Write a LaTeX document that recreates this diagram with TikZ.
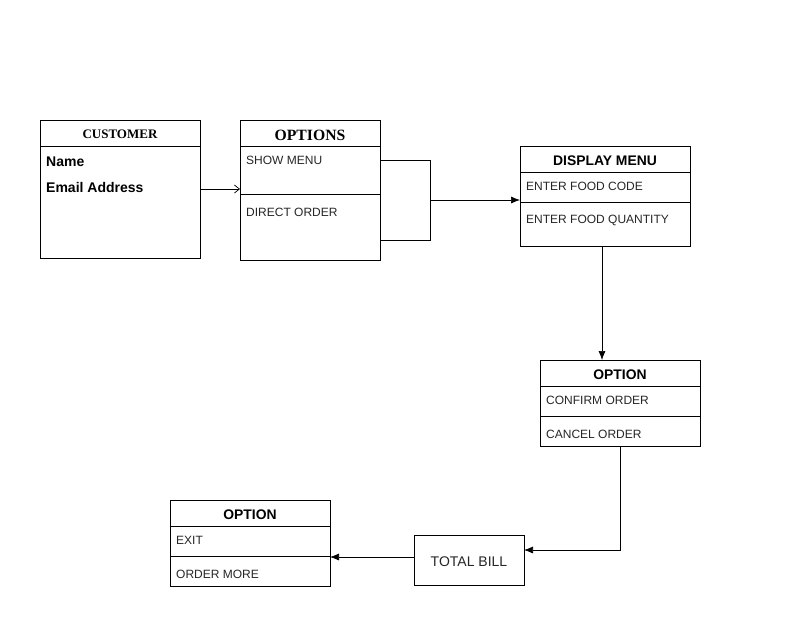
\documentclass[tikz,border=0pt]{standalone}
\usepackage{fontspec}
\setmainfont{Liberation Sans}
\newfontfamily\serifttl{Liberation Serif}
\usetikzlibrary{arrows.meta}
\begin{document}
\begin{tikzpicture}[x=1pt,y=-1pt,
  box/.style={draw, line width=0.7pt, inner sep=0pt, outer sep=0pt, anchor=north west},
  ttl/.style={font=\fontsize{13.9}{16}\selectfont\bfseries, inner sep=0pt},
  item/.style={font=\fontsize{12}{14}\selectfont, text=black!85, anchor=west, inner sep=0pt},
  conn/.style={line width=0.7pt},
  tip/.style={-{Latex[length=9pt,width=7pt]}},
  div/.style={line width=0.7pt}]
\useasboundingbox[fill=white] (0,0) rectangle (808,641);

% CUSTOMER
\node[box, minimum width=160pt, minimum height=138pt] (cust) at (40,120) {};
\draw[div] (40,146) -- (200,146);
\node[inner sep=0pt, font=\serifttl\fontsize{13}{15}\selectfont\bfseries] (custT) at (120,134) {CUSTOMER};
\node[item, font=\fontsize{14}{16}\selectfont\bfseries, text=black] (custA) at (46,162) {Name};
\node[item, font=\fontsize{14}{16}\selectfont\bfseries, text=black] (custB) at (46,187) {Email Address};

% OPTIONS
\node[box, minimum width=140pt, minimum height=140pt] (opt) at (240,120) {};
\draw[div] (240,146) -- (380,146);
\draw[div] (240,194) -- (380,194);
\node[inner sep=0pt, font=\serifttl\fontsize{15.7}{18}\selectfont\bfseries] (optT) at (310,135) {OPTIONS};
\node[item] (optA) at (246,160) {SHOW MENU};
\node[item] (optB) at (246,212) {DIRECT ORDER};

% DISPLAY MENU
\node[box, minimum width=170pt, minimum height=100pt] (disp) at (520,146) {};
\draw[div] (520,172) -- (690,172);
\draw[div] (520,202) -- (690,202);
\node[ttl] (dispT) at (605,161) {DISPLAY MENU};
\node[item] (dispA) at (526,186) {ENTER FOOD CODE};
\node[item] (dispB) at (526,220) {ENTER FOOD QUANTITY};

% OPTION 1
\node[box, minimum width=160pt, minimum height=86pt] (opt1) at (540,360) {};
\draw[div] (540,386) -- (700,386);
\draw[div] (540,416) -- (700,416);
\node[ttl] (opt1T) at (620,375) {OPTION};
\node[item] (opt1A) at (546,400) {CONFIRM ORDER};
\node[item] (opt1B) at (546,434) {CANCEL ORDER};

% TOTAL BILL
\node[box, minimum width=110pt, minimum height=50pt] (bill) at (414,535) {};
\node[inner sep=0pt, font=\fontsize{14}{16}\selectfont, text=black!85] (billT) at (469,562) {TOTAL BILL};

% OPTION 2
\node[box, minimum width=160pt, minimum height=86pt] (opt2) at (170,500) {};
\draw[div] (170,526) -- (330,526);
\draw[div] (170,556) -- (330,556);
\node[ttl] (opt2T) at (250,515) {OPTION};
\node[item] (opt2A) at (176,540) {EXIT};
\node[item] (opt2B) at (176,574) {ORDER MORE};

% connectors
\draw[conn, -{Straight Barb[length=5pt,width=8pt]}] (cust.east) -- (cust.east -| opt.west);
\coordinate (j) at (430,200);
\draw[conn] ([yshift=-40pt]opt.north east) -| (430,240) -- ([yshift=20pt]opt.south east);
\draw[conn, tip] (j) -- (j -| disp.west);
\draw[conn, tip] ([xshift=-3pt]disp.south) -- ([xshift=-3pt]disp.south |- opt1.north);
\draw[conn, tip] (opt1.south) |- ([yshift=10pt]bill.east);
\draw[conn, tip] ([yshift=3pt]bill.west) -- ([yshift=3pt]bill.west -| opt2.east);
\end{tikzpicture}
\end{document}
